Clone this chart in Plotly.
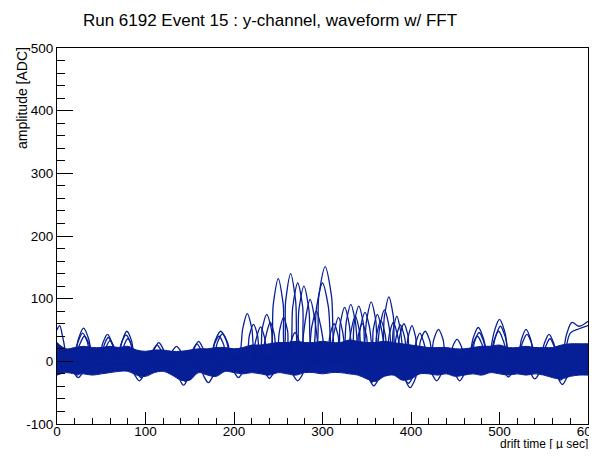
import plotly.graph_objects as go

# ---------------- data ----------------
band_t = list(range(0, 601, 10))
band_upper = [30, 20, 22, 24, 22, 22, 24, 22, 24, 18, 16, 18, 18, 16, 16, 18, 20, 20, 22, 22,
              20, 22, 26, 26, 28, 30, 30, 32, 30, 30, 32, 30, 30, 34, 32, 30, 30, 32, 30, 28,
              26, 24, 22, 22, 22, 20, 20, 22, 24, 24, 26, 22, 22, 24, 22, 22, 22, 26, 28, 28, 28]
band_lower = [-22, -18, -20, -20, -22, -20, -18, -16, -16, -22, -24, -18, -16, -22, -30, -30, -18, -22, -24, -16,
              -18, -20, -18, -20, -22, -18, -20, -22, -18, -18, -20, -18, -18, -20, -22, -28, -32, -24, -22, -30,
              -28, -20, -20, -22, -20, -24, -22, -20, -22, -18, -20, -22, -20, -22, -20, -22, -26, -28, -24, -22, -22]

wave_a_t = [0, 3, 7, 12, 19, 24.5, 30, 35.5, 41, 47, 52, 57, 62, 67, 69, 74, 79, 84, 89,
            106, 110.5, 115, 119.5, 124, 151, 155.5, 160, 164.5, 169, 173, 179, 185, 191, 197,
            205, 210, 215, 220, 225, 239, 244.5, 250, 255.5, 261, 289, 296, 303, 310, 317,
            331, 336, 341, 346, 351, 365, 370, 375, 380, 385, 406, 411, 416, 421, 426,
            443, 447.5, 452, 456.5, 461, 465, 470.5, 476, 481.5, 487, 488, 494, 500, 506, 512,
            520, 525, 530, 535, 540, 546, 551, 556, 561, 566, 570, 576, 582, 590, 600]
wave_a_adc = [50, 57, 35, 8, 8, 37, 53, 37, 8, 8, 30, 43, 30, 8, 8, 34, 48, 34, 8,
              8, 21, 30, 21, 8, 8, 22, 32, 22, 8, 8, 34, 48, 34, 8,
              8, 53, 76, 53, 8, 8, 92, 132, 92, 8, 8, 106, 151, 106, 8,
              8, 62, 88, 62, 8, 8, 72, 103, 72, 8, 8, 34, 48, 34, 8,
              8, 25, 35, 25, 8, 8, 38, 54, 38, 8, 8, 47, 67, 47, 8,
              8, 36, 51, 36, 8, 8, 30, 43, 30, 8, 8, 44, 62, 56, 64]

wave_b_t = [19, 24, 29, 34, 39, 49, 53.5, 58, 62.5, 67, 68, 73, 78, 83, 88,
            105, 109, 113, 117, 121, 127, 131, 135, 139, 143, 150, 154, 158, 162, 166,
            176, 181.5, 187, 192.5, 198, 213, 217.5, 222, 226.5, 231, 253, 258.5, 264, 269.5, 275,
            287, 293.5, 300, 306.5, 313, 322, 327, 332, 337, 342, 345, 350, 355, 360, 365,
            376, 380, 384, 388, 392, 393, 397, 401, 405, 409, 421, 426, 431, 436, 441,
            467, 472, 477, 482, 487, 490, 495.5, 501, 506.5, 512, 521, 526, 531, 536, 541,
            548, 552.5, 557, 561.5, 566, 572, 580, 590, 600]
wave_b_adc = [8, 32, 45, 32, 8, 8, 27, 38, 27, 8, 8, 30, 42, 30, 8,
              8, 19, 26, 19, 8, 8, 18, 24, 18, 8, 8, 20, 28, 20, 8,
              8, 31, 44, 31, 8, 8, 42, 59, 42, 8, 8, 98, 140, 98, 8,
              8, 88, 125, 88, 8, 8, 64, 91, 64, 8, 8, 67, 95, 67, 8,
              8, 50, 72, 50, 8, 8, 40, 57, 40, 8, 8, 36, 51, 36, 8,
              8, 32, 46, 32, 8, 8, 39, 56, 39, 8, 8, 30, 43, 30, 8,
              8, 25, 36, 25, 8, 8, 45, 52, 57]

wave_c_t = [21, 26, 31, 36, 41, 51, 55.5, 60, 64.5, 69, 71, 75.5, 80, 84.5, 89,
            173, 178, 183, 188, 193, 227, 232, 237, 242, 247, 261, 266.5, 272, 277.5, 283,
            315, 320, 325, 330, 335, 338, 343, 348, 353, 358, 360, 365, 370, 375, 380,
            383, 387.5, 392, 396.5, 401, 465, 470, 475, 480, 485, 489, 494, 499, 504, 509]
wave_c_adc = [8, 28, 40, 28, 8, 8, 23, 33, 23, 8, 8, 25, 36, 25, 8,
              8, 28, 40, 28, 8, 8, 53, 75, 53, 8, 8, 88, 125, 88, 8,
              8, 60, 86, 60, 8, 8, 55, 78, 55, 8, 8, 57, 82, 57, 8,
              8, 42, 60, 42, 8, 8, 28, 40, 28, 8, 8, 34, 48, 34, 8]

wave_d_t = [232, 236.5, 241, 245.5, 250, 268, 273.5, 279, 284.5, 290,
            304, 308.5, 313, 317.5, 322, 353, 357.5, 362, 366.5, 371]
wave_d_adc = [8, 43, 62, 43, 8, 8, 84, 120, 84, 8, 8, 42, 60, 42, 8, 8, 52, 75, 52, 8]

wave_e_t = [260, 264.5, 269, 273.5, 278, 283, 288, 293, 298, 303]
wave_e_adc = [8, 32, 46, 32, 8, 8, 56, 80, 56, 8]

wave_f_t = [276, 281, 286, 291, 296]
wave_f_adc = [8, 69, 99, 69, 8]

wave_g_t = [309, 313.5, 318, 322.5, 327, 328, 332.5, 337, 341.5, 346, 357, 361.5, 366, 370.5, 375,
            379, 383.5, 388, 392.5, 397, 402, 406, 410, 414, 418]
wave_g_adc = [8, 49, 70, 49, 8, 8, 50, 72, 50, 8, 8, 45, 65, 45, 8, 8, 40, 58, 40, 8, 8, 32, 45, 32, 8]

wave_h_t = [221, 225.5, 230, 234.5, 239, 247, 251.5, 256, 260.5, 265,
            336, 340.5, 345, 349.5, 354, 371, 375.5, 380, 384.5, 389]
wave_h_adc = [8, 38, 55, 38, 8, 8, 49, 70, 49, 8, 8, 42, 60, 42, 8, 8, 43, 62, 43, 8]

dip_a_t = [14, 19, 24, 29, 34, 83, 88, 93, 98, 103, 133, 138, 143, 148, 153,
           161, 166, 171, 176, 181, 196, 200.5, 205, 209.5, 214, 231, 235.5, 240, 244.5, 249,
           262, 267, 272, 277, 282, 347, 352.5, 358, 363.5, 369, 388, 393.5, 399, 404.5, 410,
           420, 424.5, 429, 433.5, 438, 446, 450.5, 455, 459.5, 464, 501, 505.5, 510, 514.5, 519,
           531, 535.5, 540, 544.5, 549, 561, 566, 571, 576, 581]
dip_a_adc = [-8, -18, -26, -18, -8, -8, -22, -31, -22, -8, -8, -27, -38, -27, -8,
             -8, -24, -34, -24, -8, -8, -18, -26, -18, -8, -8, -19, -27, -19, -8,
             -8, -22, -31, -22, -8, -8, -27, -39, -27, -8, -8, -29, -42, -29, -8,
             -8, -22, -31, -22, -8, -8, -22, -31, -22, -8, -8, -18, -25, -18, -8,
             -8, -20, -28, -20, -8, -8, -26, -37, -26, -8]

dip_b_t = [14, 18.5, 23, 27.5, 32, 86, 90.5, 95, 99.5, 104, 136, 140.5, 145, 149.5, 154,
           346, 351, 356, 361, 366, 387, 392, 397, 402, 407, 560, 564.5, 569, 573.5, 578]
dip_b_adc = [-8, -16, -22, -16, -8, -8, -18, -26, -18, -8, -8, -22, -32, -22, -8,
             -8, -23, -33, -23, -8, -8, -25, -35, -25, -8, -8, -21, -30, -21, -8]

x_ticks = [0, 100, 200, 300, 400, 500, 600]
y_ticks = [-100, 0, 100, 200, 300, 400, 500]

# ---------------- figure ----------------
BLUE = "rgb(6,30,150)"
FONT = "Liberation Sans, Arial, Helvetica, sans-serif"

# The page body adds an 8px margin; the visible figure area is window x 8..589, y 8..449.
OFF = 8
W, H = 597 - 2 * OFF, 457 - 2 * OFF
PL, PR, PT, PB = 57, 588, 48, 424   # plot frame in window pixels

fig = go.Figure()

fig.add_trace(go.Scatter(x=band_t, y=band_upper, mode="lines",
                         line=dict(color=BLUE, width=1, shape="spline"),
                         hoverinfo="skip", showlegend=False))
fig.add_trace(go.Scatter(x=band_t, y=band_lower, mode="lines",
                         line=dict(color=BLUE, width=1, shape="spline"),
                         fill="tonexty", fillcolor=BLUE,
                         hoverinfo="skip", showlegend=False))

waves = [(wave_a_t, wave_a_adc), (wave_b_t, wave_b_adc), (wave_c_t, wave_c_adc),
         (wave_d_t, wave_d_adc), (wave_e_t, wave_e_adc), (wave_f_t, wave_f_adc),
         (wave_g_t, wave_g_adc), (wave_h_t, wave_h_adc),
         (dip_a_t, dip_a_adc), (dip_b_t, dip_b_adc)]
for t, a in waves:
    assert len(t) == len(a)
    fig.add_trace(go.Scatter(x=t, y=a, mode="lines",
                             line=dict(color=BLUE, width=1.3, shape="spline", smoothing=1.0),
                             hoverinfo="skip", showlegend=False))

axis_common = dict(showgrid=False, zeroline=False, showline=True, mirror=True,
                   linecolor="black", linewidth=1, ticks="inside", tickcolor="black",
                   tickwidth=1, automargin=False, ticklabeloverflow="allow",
                   tickfont=dict(family=FONT, size=13.5, color="black"))

fig.update_xaxes(range=[0, 600], tickvals=x_ticks, ticktext=[str(v) for v in x_ticks],
                 ticklen=12, ticklabelstandoff=-5,
                 minor=dict(ticks="inside", ticklen=6, dtick=20, tick0=0, tickcolor="black", tickwidth=1),
                 **axis_common)
fig.update_yaxes(range=[-100, 500], tickvals=y_ticks, ticktext=[str(v) for v in y_ticks],
                 ticklen=16,
                 minor=dict(ticks="inside", ticklen=8, dtick=20, tick0=0, tickcolor="black", tickwidth=1),
                 **axis_common)

fig.update_layout(
    width=W, height=H,
    margin=dict(l=PL - OFF, r=W - (PR - OFF), t=PT - OFF, b=H - (PB - OFF), pad=0, autoexpand=False),
    paper_bgcolor="white", plot_bgcolor="white",
    title=dict(text="Run 6192 Event 15 : y-channel, waveform w/ FFT",
               x=(270 - OFF) / W, xanchor="center", xref="container",
               y=1 - (20 - OFF) / H, yanchor="middle", yref="container",
               font=dict(family=FONT, size=17, color="black")),
    annotations=[
        dict(text="drift time [ \u00b5 sec]", xref="paper", yref="paper",
             x=(590 - PL) / (PR - PL), y=(PB - 443.5) / (PB - PT), xanchor="right", yanchor="middle",
             showarrow=False, font=dict(family=FONT, size=12, color="black")),
        dict(text="amplitude [ADC]", xref="paper", yref="paper", textangle=-90,
             x=(22 - PL) / (PR - PL), y=(PB - 45) / (PB - PT), xanchor="center", yanchor="top",
             showarrow=False, font=dict(family=FONT, size=14, color="black")),
    ],
)

fig.write_html("out.html")
